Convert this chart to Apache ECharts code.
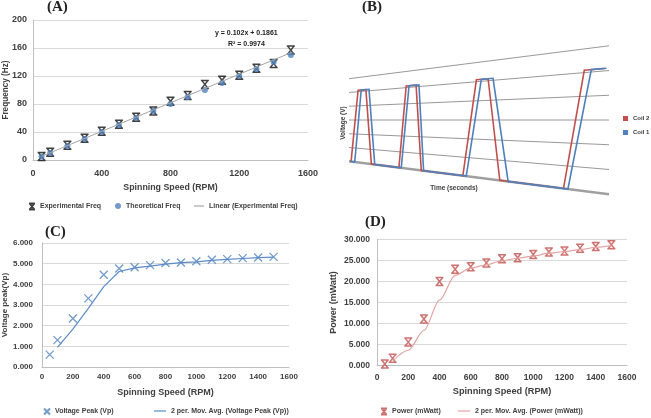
<!DOCTYPE html>
<html><head><meta charset="utf-8">
<script src="https://cdn.jsdelivr.net/npm/echarts@6/dist/echarts.min.js"></script>
<style>html,body{margin:0;padding:0;background:#fff}#c{width:651px;height:418px}</style>
</head><body><div id="c"></div>
<script>
// ---------- DATA ----------
const rpm = [50,100,200,300,400,500,600,700,800,900,1000,1100,1200,1300,1400,1500];
const expFreq = [5,11,21,31,41,51,61,70,84,92,108,114,121,131,138,157];
const theoFreq = [5,10,20,30,40,50,60,70,80,90,100,110,120,130,140,150];
const trendRpm = [50,1500];
const trendFreq = [5.29,153.19];

const vPeak = [0.60,1.30,2.35,3.32,4.46,4.77,4.83,4.93,5.03,5.06,5.12,5.19,5.22,5.27,5.30,5.33];
const maRpm = [100,200,300,400,500,600,700,800,900,1000,1100,1200,1300,1400,1500];
const vPeakMA = [0.95,1.83,2.84,3.89,4.62,4.80,4.88,4.98,5.05,5.09,5.16,5.21,5.25,5.29,5.32];

const power = [0.4,1.74,5.6,11.1,20.0,22.9,23.5,24.4,25.4,25.6,26.4,27.0,27.2,27.9,28.3,28.7];
const powerMA = [1.07,3.67,8.35,15.55,21.45,23.2,23.95,24.9,25.5,26.0,26.7,27.1,27.55,28.1,28.5];

// Panel B (time in % of window, voltage levels)
const coil2T = [0.8,3.5,6.5,8.6,19.2,22.0,25.8,27.8,43.8,49.0,53.5,58.0,82.5,90.5,98.3];
const coil2V = [0,5.1,5.1,0,0,5.1,5.1,0,0,5.1,5.1,0,0,5.1,5.1];
const coil1T = [0.5,2.2,4.7,7.7,9.9,20.1,23.1,26.9,28.7,45.1,50.9,55.4,61.2,84.2,93.2,99.0];
const coil1V = [0,0,5.1,5.1,0,0,5.1,5.1,0,0,5.1,5.1,0,0,5.1,5.1];
const bLevels = [0,1,2,3,4,5,6];

// ---------- STYLE ----------
const F = "'Liberation Sans',Arial,sans-serif";
const TXT = '#404040';
const XBAR = 'path://M0,0L10,0M0,10L10,10M1,0L9,10M9,0L1,10';
const XTHIN = 'path://M0,0L10,10M10,0L0,10';
const SERIF = {fontFamily: "'Liberation Serif',serif", fontWeight: 'bold', fontSize: 15, color: '#222'};

function proj(api, t, v) {
  const base = api.coord([t, 3]);
  const up = api.coord([t, 4]);
  const unit = base[1] - up[1];
  const k = 1 + 0.797 * t / 100;
  return [base[0], base[1] - (v - 3) * unit * k];
}

function axisCommon(extra) {
  return Object.assign({
    type: 'value',
    axisLine: {show: true, lineStyle: {color: '#BFBFBF', width: 1}},
    axisTick: {show: false},
    splitLine: {show: false}
  }, extra);
}
function lg(name, left, top, w, h, icon, fs) {
  const o = {data: [name], left: left, top: top, padding: 0, itemWidth: w, itemHeight: h,
    textStyle: {fontFamily: F, fontWeight: 'bold', fontSize: fs || 7, color: TXT}};
  if (icon) o.icon = icon;
  return o;
}
const nameStyle = fs => ({fontFamily: F, fontWeight: 'bold', fontSize: fs, color: TXT});
const lblStyle = (fs, margin, fmt) => {
  const o = {fontFamily: F, fontWeight: 'bold', fontSize: fs, color: TXT, margin: margin, showMaxLabel: true, showMinLabel: true};
  if (fmt) o.formatter = fmt;
  return o;
};

const chart = echarts.init(document.getElementById('c'), null, {renderer: 'canvas'});
const option = {
  animation: false,
  backgroundColor: '#fff',
  title: [
    {text: '(A)', left: 47, top: 0, padding: 0, textStyle: SERIF},
    {text: '(B)', left: 362, top: 0, padding: 0, textStyle: SERIF},
    {text: '(C)', left: 45, top: 225, padding: 0, textStyle: SERIF},
    {text: '(D)', left: 365, top: 215, padding: 0, textStyle: SERIF}
  ],
  graphic: [
    {type: 'text', left: 215, top: 30, style: {text: 'y = 0.102x + 0.1861', font: 'bold 7px ' + F, fill: '#222'}},
    {type: 'text', left: 228, top: 41, style: {text: 'R² = 0.9974', font: 'bold 7px ' + F, fill: '#222'}},
    {type: 'text', x: 343, y: 123, rotation: Math.PI / 2, style: {text: 'Voltage (V)', font: 'bold 6.5px ' + F, fill: TXT, align: 'center', verticalAlign: 'middle'}},
    {type: 'text', x: 454, y: 188, style: {text: 'Time (seconds)', font: 'bold 6.5px ' + F, fill: TXT, align: 'center', verticalAlign: 'middle'}}
  ],
  legend: [
    lg('Experimental Freq', 28, 202.5, 6, 6),
    lg('Theoretical Freq', 115, 202.5, 6, 6),
    lg('Linear (Experimental Freq)', 194, 202.5, 10, 1.2, 'rect'),
    lg('Coil 2', 623, 115.5, 5, 5, 'rect', 6),
    lg('Coil 1', 623, 129.5, 5, 5, 'rect', 6),
    lg('Voltage Peak (Vp)', 43, 407.5, 6, 6),
    lg('2 per. Mov. Avg. (Voltage Peak (Vp))', 154, 407.5, 12, 1.2, 'rect'),
    lg('Power (mWatt)', 380, 407.5, 6, 6),
    lg('2 per. Mov. Avg. (Power (mWatt))', 458, 407.5, 12, 1.2, 'rect')
  ],
  grid: [
    {left: 33, top: 20, width: 275, height: 140},
    {left: 349, top: 78.7, width: 260, height: 82.6},
    {left: 42, top: 243, width: 247, height: 124},
    {left: 377, top: 239.3, width: 250, height: 126.4}
  ],
  xAxis: [
    axisCommon({gridIndex: 0, min: 0, max: 1600, interval: 400, name: 'Spinning Speed (RPM)', nameLocation: 'middle', nameGap: 23,
      nameTextStyle: nameStyle(8.8), axisLabel: lblStyle(9, 9, v => String(v))}),
    {gridIndex: 1, type: 'value', min: 0, max: 100, show: false},
    axisCommon({gridIndex: 2, min: 0, max: 1600, interval: 200, name: 'Spinning Speed (RPM)', nameLocation: 'middle', nameGap: 21,
      nameTextStyle: nameStyle(9), axisLabel: lblStyle(8, 6, v => String(v))}),
    axisCommon({gridIndex: 3, min: 0, max: 1600, interval: 200, name: 'Spinning Speed (RPM)', nameLocation: 'middle', nameGap: 21,
      nameTextStyle: nameStyle(9.2), axisLabel: lblStyle(8.5, 7, v => String(v))})
  ],
  yAxis: [
    axisCommon({gridIndex: 0, min: 0, max: 200, interval: 40, name: 'Frequency (Hz)', nameLocation: 'middle', nameGap: 23,
      nameTextStyle: nameStyle(8.2), nameMoveOverlap: false,
      splitLine: {show: true, lineStyle: {color: '#D9D9D9', width: 1}},
      axisLabel: lblStyle(9, 6)}),
    {gridIndex: 1, type: 'value', min: 0, max: 6, show: false},
    axisCommon({gridIndex: 2, min: 0, max: 6, interval: 1, name: 'Voltage peak(Vp)', nameLocation: 'middle', nameGap: 32,
      nameTextStyle: nameStyle(8),
      splitLine: {show: true, lineStyle: {color: '#D9D9D9', width: 1}},
      axisLabel: lblStyle(8, 9, v => v.toFixed(3))}),
    axisCommon({gridIndex: 3, min: 0, max: 30, interval: 5, name: 'Power (mWatt)', nameLocation: 'middle', nameGap: 39,
      nameTextStyle: nameStyle(9),
      splitLine: {show: true, lineStyle: {color: '#D9D9D9', width: 1}},
      axisLabel: lblStyle(8.5, 7, v => v.toFixed(3))})
  ],
  series: [
    // Panel A
    {name: 'Experimental Freq', type: 'scatter', xAxisIndex: 0, yAxisIndex: 0, symbol: XBAR, symbolSize: 8,
      itemStyle: {color: 'rgba(0,0,0,0)', borderColor: '#111', borderWidth: 1.5},
      data: rpm.map((x, i) => [x, expFreq[i]])},
    {name: 'Theoretical Freq', type: 'scatter', xAxisIndex: 0, yAxisIndex: 0, symbol: 'circle', symbolSize: 6,
      itemStyle: {color: '#4F81BD'},
      data: rpm.map((x, i) => [x, theoFreq[i]])},
    {name: 'Linear (Experimental Freq)', type: 'line', xAxisIndex: 0, yAxisIndex: 0, symbol: 'none', showSymbol: false,
      lineStyle: {color: '#A6A6A6', width: 1}, itemStyle: {color: '#A6A6A6'},
      data: trendRpm.map((x, i) => [x, trendFreq[i]])},
    // Panel B
    {name: 'Bgrid', type: 'custom', xAxisIndex: 1, yAxisIndex: 1, silent: true,
      data: bLevels.map(v => [0, v]),
      renderItem: function (params, api) {
        const v = api.value(1);
        const p1 = proj(api, 0, v), p2 = proj(api, 100, v);
        return {type: 'line', shape: {x1: p1[0], y1: p1[1], x2: p2[0], y2: p2[1]},
          style: {stroke: v === 0 ? '#A0A0A0' : '#8C8C8C', lineWidth: v === 0 ? 2.6 : 0.9}};
      }},
    {name: 'Coil 2', type: 'custom', xAxisIndex: 1, yAxisIndex: 1, itemStyle: {color: '#C0504D'},
      data: coil2T.map((t, i) => [t, coil2V[i]]),
      renderItem: function (params, api) {
        if (params.dataIndex !== 0) return null;
        const pts = coil2T.map((t, i) => proj(api, t, coil2V[i]));
        return {type: 'polyline', shape: {points: pts}, style: {stroke: '#C0504D', lineWidth: 1.6, fill: null}};
      }},
    {name: 'Coil 1', type: 'custom', xAxisIndex: 1, yAxisIndex: 1, itemStyle: {color: '#4F81BD'},
      data: coil1T.map((t, i) => [t, coil1V[i]]),
      renderItem: function (params, api) {
        if (params.dataIndex !== 0) return null;
        const pts = coil1T.map((t, i) => proj(api, t, coil1V[i]));
        return {type: 'polyline', shape: {points: pts}, style: {stroke: '#4F81BD', lineWidth: 1.6, fill: null}};
      }},
    // Panel C
    {name: 'Voltage Peak (Vp)', type: 'scatter', xAxisIndex: 2, yAxisIndex: 2, symbol: XTHIN, symbolSize: 8,
      itemStyle: {color: 'rgba(0,0,0,0)', borderColor: '#4F81BD', borderWidth: 1.3},
      data: rpm.map((x, i) => [x, vPeak[i]])},
    {name: '2 per. Mov. Avg. (Voltage Peak (Vp))', type: 'line', xAxisIndex: 2, yAxisIndex: 2, symbol: 'none', showSymbol: false,
      lineStyle: {color: '#5B8BC8', width: 1.2}, itemStyle: {color: '#5B8BC8'},
      data: maRpm.map((x, i) => [x, vPeakMA[i]])},
    // Panel D
    {name: 'Power (mWatt)', type: 'scatter', xAxisIndex: 3, yAxisIndex: 3, symbol: XBAR, symbolSize: 8,
      itemStyle: {color: 'rgba(0,0,0,0)', borderColor: '#C0504D', borderWidth: 1.5},
      data: rpm.map((x, i) => [x, power[i]])},
    {name: '2 per. Mov. Avg. (Power (mWatt))', type: 'line', xAxisIndex: 3, yAxisIndex: 3, symbol: 'none', showSymbol: false,
      smooth: 0.3, smoothMonotone: 'x',
      lineStyle: {color: '#E3A3A2', width: 1.2}, itemStyle: {color: '#E3A3A2'},
      data: maRpm.map((x, i) => [x, powerMA[i]])}
  ]
};
chart.setOption(option);
</script></body></html>
